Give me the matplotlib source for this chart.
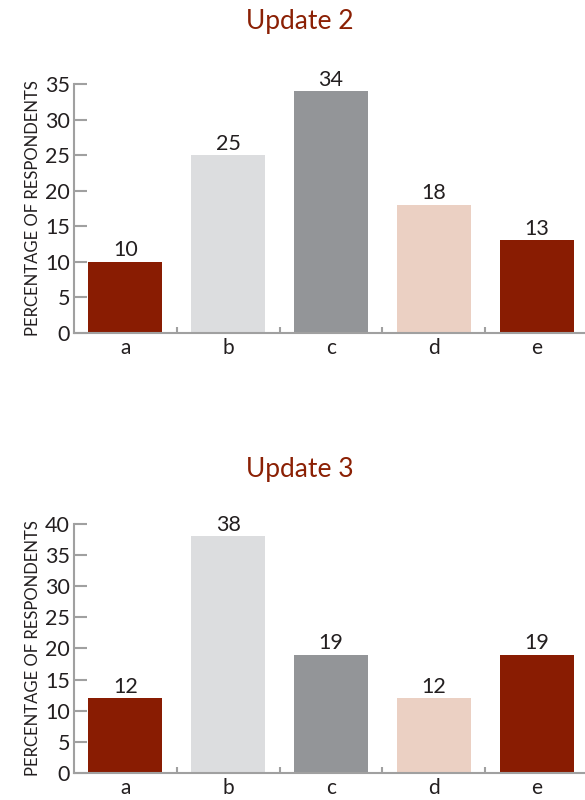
import matplotlib

matplotlib.use("Agg")

import matplotlib.pyplot as plt

# ==================================================
# Data
# ==================================================
categories = ["a", "b", "c", "d", "e"]
update2_values = [10, 25, 34, 18, 13]
update3_values = [12, 38, 19, 12, 19]

bar_colors = ["#891C02", "#DCDDDF", "#939598", "#EBD0C3", "#891C02"]
title_color = "#8B2004"
axis_color = "#A0A0A0"
text_color = "#231F20"

plt.rcParams["font.family"] = ["Lato", "DejaVu Sans"]


# ==================================================
# One panel
# ==================================================
def draw_panel(ax, values, ymax):
    x = range(len(categories))
    bars = ax.bar(x, values, width=0.72, color=bar_colors, zorder=2)

    for bar, v in zip(bars, values):
        ax.annotate(
            str(v),
            (bar.get_x() + bar.get_width() / 2, v),
            xytext=(0, 1),
            textcoords="offset points",
            ha="center",
            va="bottom",
            fontsize=15.5,
            color=text_color,
        )

    ax.set_xlim(-0.5, 4.47)
    ax.set_ylim(0, ymax)
    ax.set_yticks(range(0, ymax + 1, 5))
    ax.set_xticks(list(x))
    ax.set_xticklabels(categories)

    # small upward ticks between categories
    ax.set_xticks([0.5, 1.5, 2.5, 3.5], minor=True)
    ax.tick_params(axis="x", which="minor", direction="in", length=4,
                   width=1.5, color=axis_color)
    ax.xaxis.get_minor_ticks()[3].tick1line.set_color("black")
    ax.tick_params(axis="x", which="major", length=0, pad=4,
                   labelsize=15, labelcolor=text_color)
    ax.tick_params(axis="y", direction="in", length=9, width=1.5,
                   color=axis_color, pad=3, labelsize=15.5,
                   labelcolor=text_color)

    for side in ["top", "right"]:
        ax.spines[side].set_visible(False)
    for side in ["left", "bottom"]:
        ax.spines[side].set_color(axis_color)
        ax.spines[side].set_linewidth(1.5)

    ax.set_ylabel("PERCENTAGE OF RESPONDENTS", fontsize=12,
                  color=text_color, labelpad=3)


fig = plt.figure(figsize=(5.85, 8), dpi=100)

ax1 = fig.add_axes([0.1265, 0.584, 0.8735, 0.311])
draw_panel(ax1, update2_values, 35)
fig.text(300 / 585, 0.9725, "Update 2", ha="center", va="center",
         fontsize=19, color=title_color)

ax2 = fig.add_axes([0.1265, 0.034, 0.8735, 0.311])
draw_panel(ax2, update3_values, 40)
fig.text(300 / 585, 0.4125, "Update 3", ha="center", va="center",
         fontsize=19, color=title_color)

fig.savefig("out.png", dpi=100)
plt.close(fig)
